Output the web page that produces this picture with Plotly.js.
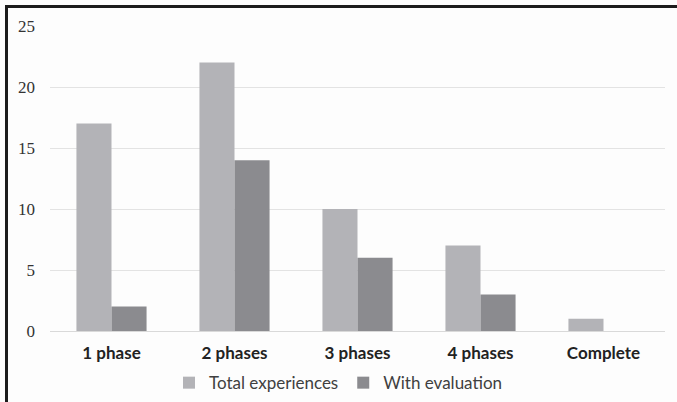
<!DOCTYPE html>
<html>
<head>
<meta charset="utf-8">
<script src="https://cdn.plot.ly/plotly-3.0.1.min.js"></script>
<style>
  html, body { margin:0; padding:0; background:#fdfdfd; width:677px; height:402px; overflow:hidden; }
  #frame { position:absolute; left:5px; top:5px; width:700px; height:420px; border-left:3px solid #1c1c1c; border-top:3px solid #1c1c1c; box-sizing:border-box; }
  #chart { position:absolute; left:0; top:0; width:677px; height:402px; }
</style>
</head>
<body>
<div id="frame"></div>
<div id="chart"></div>
<script>
const categories = ["1 phase", "2 phases", "3 phases", "4 phases", "Complete"];
const totalExperiences = [17, 22, 10, 7, 1];
const withEvaluation = [2, 14, 6, 3, 0];
const seriesNames = ["Total experiences", "With evaluation"];
const yTicks = [0, 5, 10, 15, 20, 25];

const traces = [
  { type: "bar", name: seriesNames[0], x: categories, y: totalExperiences, marker: { color: "#b3b3b7" } },
  { type: "bar", name: seriesNames[1], x: categories, y: withEvaluation, marker: { color: "#8b8b8f" } }
];

const layout = {
  width: 677, height: 402,
  paper_bgcolor: "rgba(0,0,0,0)", plot_bgcolor: "rgba(0,0,0,0)",
  margin: { l: 50, r: 12, t: 26, b: 71 },
  barmode: "group", bargap: 0.43, bargroupgap: 0,
  showlegend: true,
  legend: { orientation: "h", x: 0.5, xref: "container", xanchor: "center",
            y: 0.047, yref: "container", yanchor: "middle",
            font: { family: "Lato, 'Open Sans', sans-serif", size: 17, color: "#404040" },
            itemwidth: 30, traceorder: "normal" },
  xaxis: { type: "category", showgrid: false, showline: false, zeroline: false, ticks: "",
           tickfont: { family: "Lato, 'Open Sans', sans-serif", size: 17, color: "#222222", weight: "bold" },
           ticklabelstandoff: 10 },
  yaxis: { range: [0, 25], tickvals: yTicks, showgrid: true, gridcolor: "#e3e3e3", gridwidth: 1,
           zeroline: true, zerolinecolor: "#d9d9d9", zerolinewidth: 1, showline: false, ticks: "",
           tickfont: { family: "'Liberation Serif', serif", size: 17, color: "#333333" },
           ticklabelstandoff: 14 }
};

Plotly.newPlot("chart", traces, layout, { staticPlot: true, displayModeBar: false });
</script>
</body>
</html>
